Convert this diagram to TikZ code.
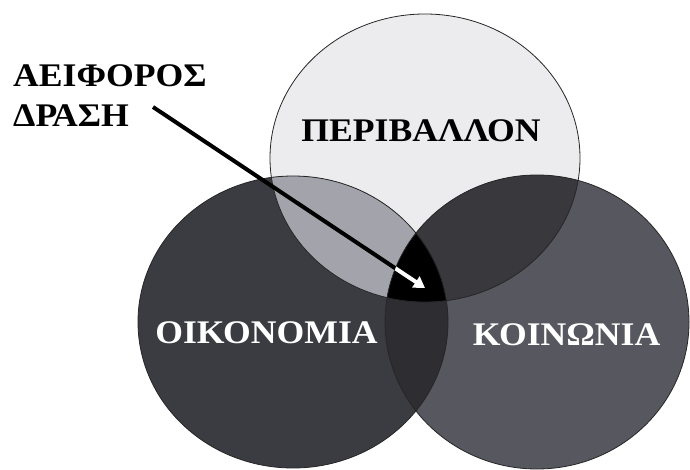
\documentclass[tikz,border=0pt]{standalone}
\usepackage{fontspec}
\setmainfont{Liberation Serif}
\usetikzlibrary{arrows.meta}
\definecolor{topc}{HTML}{ECECEF}
\definecolor{leftc}{HTML}{3B3B42}
\definecolor{rightc}{HTML}{57575F}
\definecolor{tlc}{HTML}{A3A3AB}
\definecolor{trc}{HTML}{38383D}
\definecolor{lrc}{HTML}{2D2D32}
\newcommand{\wide}[1]{\scalebox{1.08}[1]{#1}}
\tikzset{
  outl/.style={draw=black!85, line width=0.8pt},
  lbl/.style={font=\bfseries\fontsize{33}{36}\selectfont, inner sep=0pt},
  darklabel/.style={lbl, text=black, anchor=base},
  lightlabel/.style={lbl, text=white, anchor=base},
  biglabel/.style={lbl, text=black, anchor=base west},
  pointer/.style={line width=4pt, -{Triangle[length=11pt,width=13pt]}}
}
\begin{document}
\begin{tikzpicture}[x=1pt,y=-1pt]
\useasboundingbox[fill=white] (0,0) rectangle (690,470);
% base fills
\fill[topc] (425,158) ellipse [x radius=155, y radius=144];
\fill[leftc] (293,322) ellipse [x radius=155, y radius=146];
\fill[rightc] (537,322) ellipse [x radius=152, y radius=147];
% pairwise overlaps
\begin{scope}
  \clip (425,158) ellipse [x radius=155, y radius=144];
  \fill[tlc] (293,322) ellipse [x radius=155, y radius=146];
\end{scope}
\begin{scope}
  \clip (425,158) ellipse [x radius=155, y radius=144];
  \fill[trc] (537,322) ellipse [x radius=152, y radius=147];
\end{scope}
\begin{scope}
  \clip (293,322) ellipse [x radius=155, y radius=146];
  \fill[lrc] (537,322) ellipse [x radius=152, y radius=147];
\end{scope}
\begin{scope}
  \clip (425,158) ellipse [x radius=155, y radius=144];
  \clip (293,322) ellipse [x radius=155, y radius=146];
  \fill[black] (537,322) ellipse [x radius=152, y radius=147];
\end{scope}
% outlines
\draw[outl] (425,158) ellipse [x radius=155, y radius=144];
\draw[outl] (293,322) ellipse [x radius=155, y radius=146];
\draw[outl] (537,322) ellipse [x radius=152, y radius=147];
% labels
\node[darklabel] (env) at (421,142) {\wide{ΠΕΡΙΒΑΛΛΟΝ}};
\node[lightlabel] (eco) at (266.5,343) {\wide{ΟΙΚΟΝΟΜΙΑ}};
\node[lightlabel] (soc) at (566.5,345) {\wide{ΚΟΙΝΩΝΙΑ}};
\node[biglabel] (l1) at (13,87) {\wide{ΑΕΙΦΟΡΟΣ}};
\node[biglabel] (l2) at (13,127) {\wide{ΔΡΑΣΗ}};
% pointer
\coordinate (as) at (153,107);
\coordinate (at) at (425,288);
\draw[pointer, black] (as) -- (at);
\begin{scope}
  \clip (425,158) ellipse [x radius=155, y radius=144];
  \clip (293,322) ellipse [x radius=155, y radius=146];
  \clip (537,322) ellipse [x radius=152, y radius=147];
  \draw[pointer, white] (as) -- (at);
\end{scope}
\end{tikzpicture}
\end{document}
